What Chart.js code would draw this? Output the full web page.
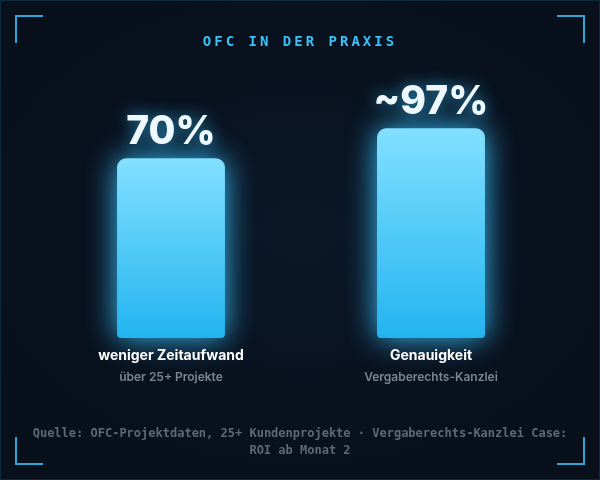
<!DOCTYPE html>
<html>
<head>
<meta charset="utf-8">
<script src="https://cdn.jsdelivr.net/npm/chart.js@4.4.1/dist/chart.umd.min.js"></script>
<style>
  html, body { margin: 0; padding: 0; }
  body { width: 600px; height: 480px; background: #08101b; overflow: hidden; }
  .frame {
    position: relative; width: 600px; height: 480px; box-sizing: border-box;
    border: 1px solid #0f2a3b;
    background: radial-gradient(ellipse 60% 55% at 50% 48%, #0b1828 0%, #09121f 60%, #08101b 100%);
  }
  .corner { position: absolute; width: 26px; height: 26px; border-color: #2fa6d6; border-style: solid; border-width: 0; }
  .tl { left: 14px; top: 14px; border-top-width: 2px; border-left-width: 2px; }
  .tr { right: 14px; top: 14px; border-top-width: 2px; border-right-width: 2px; }
  .bl { left: 14px; bottom: 14px; border-bottom-width: 2px; border-left-width: 2px; }
  .br { right: 14px; bottom: 14px; border-bottom-width: 2px; border-right-width: 2px; }
  .title {
    position: absolute; left: 0; right: 0; top: 32px; text-align: center;
    font: bold 14px "DejaVu Sans Mono", monospace; letter-spacing: 3px; color: #3cc0f5;
  }
  .source {
    position: absolute; left: 20px; right: 20px; top: 424px; text-align: center;
    font: bold 12px/17px "DejaVu Sans Mono", monospace; color: #5f6975;
  }
  .chart-box { position: absolute; left: 0; top: 0; width: 600px; height: 480px; }
</style>
</head>
<body>
<div class="frame">
  <div class="chart-box"><canvas id="myChart"></canvas></div>
  <div class="corner tl"></div><div class="corner tr"></div>
  <div class="corner bl"></div><div class="corner br"></div>
  <div class="title">OFC IN DER PRAXIS</div>
  <div class="source">Quelle: OFC-Projektdaten, 25+ Kundenprojekte · Vergaberechts-Kanzlei Case:<br>ROI ab Monat 2</div>
</div>
<script>
// data
var categories = ['weniger Zeitaufwand', 'Genauigkeit'];
var subLabels = ['über 25+ Projekte', 'Vergaberechts-Kanzlei'];
var values = [70, 97];
var valueLabels = ['70%', '~97%'];

// the bars do not start at zero in the original, the axis floor sits well below
var yMin = -92;
var yMax = 100;

function barGradient(context) {
  var chart = context.chart;
  if (!chart.chartArea || context.type !== 'data') return '#38bdf8';
  var y = chart.scales.y;
  var top = y.getPixelForValue(context.raw);
  var bottom = y.getPixelForValue(yMin);
  var g = chart.ctx.createLinearGradient(0, top, 0, bottom);
  g.addColorStop(0, '#82e0ff');
  g.addColorStop(1, '#22b4ef');
  return g;
}

var glowPlugin = {
  id: 'glow',
  beforeDatasetsDraw: function (chart) {
    var ctx = chart.ctx;
    ctx.save();
    ctx.shadowColor = 'rgba(56, 189, 248, 1)';
    ctx.shadowBlur = 30;
  },
  afterDatasetsDraw: function (chart) {
    chart.ctx.restore();
  }
};

var labelPlugin = {
  id: 'labels',
  afterDraw: function (chart) {
    var ctx = chart.ctx;
    var meta = chart.getDatasetMeta(0);
    var x = chart.scales.x;
    ctx.save();
    ctx.textAlign = 'center';
    meta.data.forEach(function (bar, i) {
      // value above bar
      ctx.save();
      ctx.font = '800 39px Inter, "Noto Sans", sans-serif';
      ctx.shadowColor = 'rgba(56, 189, 248, 0.75)';
      ctx.shadowBlur = 16;
      ctx.fillStyle = '#eef9ff';
      ctx.fillText(valueLabels[i], bar.x, bar.y - 14);
      ctx.restore();

      var cx = x.getPixelForValue(i);
      ctx.font = 'bold 14px Inter, "Noto Sans", sans-serif';
      ctx.fillStyle = '#ffffff';
      ctx.fillText(categories[i], cx, 359);
      ctx.font = '600 12px Inter, "Noto Sans", sans-serif';
      ctx.fillStyle = '#7c8592';
      ctx.fillText(subLabels[i], cx, 380);
    });
    ctx.restore();
  }
};

var ctx = document.getElementById('myChart');
var myChart = new Chart(ctx, {
    type: 'bar',
    data: {
        labels: categories,
        datasets: [{
            data: values,
            base: yMin,
            clip: false,
            backgroundColor: barGradient,
            borderWidth: 0,
            borderSkipped: false,
            borderRadius: { topLeft: 9, topRight: 9, bottomLeft: 4, bottomRight: 4 },
            categoryPercentage: 1,
            barPercentage: 0.415
        }]
    },
    options: {
        responsive: true,
        maintainAspectRatio: false,
        animation: false,
        layout: { padding: { top: 124, bottom: 143, left: 40, right: 40 } },
        plugins: { legend: { display: false }, tooltip: { enabled: false } },
        scales: {
            x: { display: false },
            y: { display: false, min: yMin, max: yMax }
        }
    },
    plugins: [glowPlugin, labelPlugin]
});
</script>
</body>
</html>
